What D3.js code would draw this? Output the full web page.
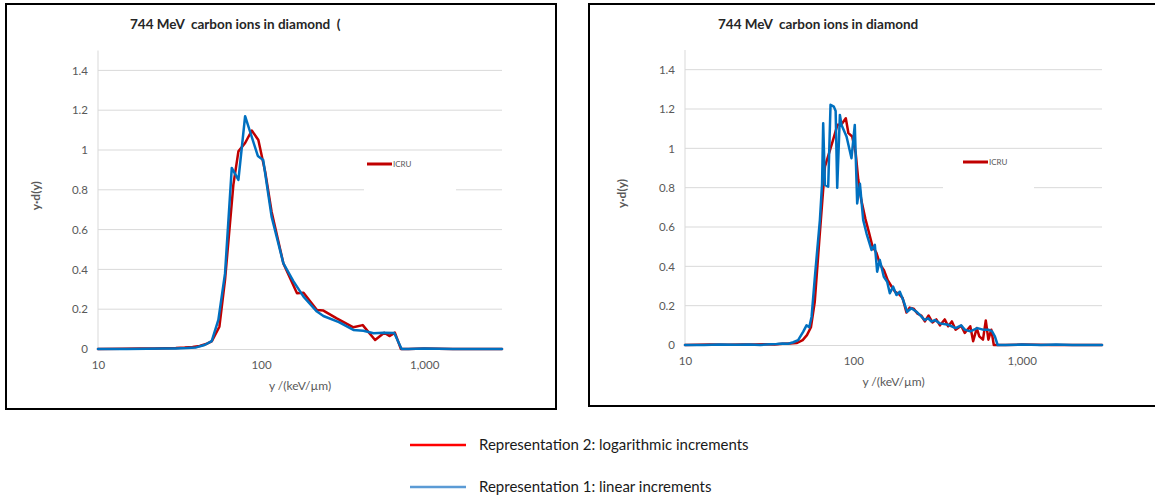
<!DOCTYPE html>
<html>
<head>
<meta charset="utf-8">
<script src="https://cdn.jsdelivr.net/npm/d3@7"></script>
<style>
  html, body { margin: 0; padding: 0; background: #fff; }
  svg { display: block; }
  text { font-family: Lato, "Open Sans", "Liberation Sans", sans-serif; }
</style>
</head>
<body>
<svg id="chart" width="1155" height="497"></svg>
<script>
// Microdosimetric spectra y·d(y), 744 MeV carbon ions in diamond

// Panel A — coarse binning
const panelALogX = [10, 14, 18, 22, 26, 30, 34, 38, 42, 46, 50, 55.5, 60.1, 67.6, 72.6, 79.8, 87.7, 96.2, 106, 116, 137, 166, 182, 220, 241, 291, 368, 420, 500, 569, 612, 661, 720, 800, 1000, 1500, 2000, 3000];
const panelALogY = [0, 0.001, 0.002, 0.003, 0.004, 0.005, 0.007, 0.01, 0.015, 0.025, 0.04, 0.112, 0.347, 0.825, 0.993, 1.035, 1.098, 1.05, 0.89, 0.69, 0.43, 0.28, 0.283, 0.196, 0.193, 0.154, 0.109, 0.12, 0.045, 0.082, 0.065, 0.082, 0, 0, 0.002, 0, 0, 0];
const panelALinX = [10, 15, 20, 25, 30, 35, 40, 45, 49.8, 54.7, 60.1, 66.1, 72.6, 79.8, 95.5, 103, 116, 137, 158, 182, 220, 241, 300, 368, 424, 489, 565, 655, 727, 800, 1000, 1500, 2000, 3000];
const panelALinY = [0, 0, 0.001, 0.002, 0.003, 0.005, 0.008, 0.02, 0.04, 0.146, 0.38, 0.91, 0.85, 1.17, 0.97, 0.95, 0.665, 0.43, 0.34, 0.263, 0.188, 0.166, 0.135, 0.096, 0.092, 0.079, 0.082, 0.08, 0, 0, 0.002, 0, 0, 0];

// Panel B — fine binning
const panelBLogX = [10, 14, 18, 22, 26, 30, 34, 38, 42, 46, 50, 53, 56, 59, 63, 67.8, 74.8, 80.5, 84.7, 90.2, 93.5, 98.4, 103.3, 107, 111.4, 118, 124, 130, 137, 144, 152, 160, 168, 177, 186, 196, 207, 216, 228, 240, 253, 266, 280, 295, 311, 327, 349, 366, 385, 405, 437, 459, 495, 515, 541, 560, 589, 612, 634, 660, 683, 720, 800, 1000, 1500, 2000, 3000];
const panelBLogY = [0, 0.002, 0.001, 0.003, 0.002, 0.004, 0.003, 0.006, 0.008, 0.01, 0.025, 0.05, 0.09, 0.22, 0.55, 0.907, 1.026, 1.12, 1.12, 1.153, 1.077, 1.06, 0.975, 0.84, 0.738, 0.64, 0.57, 0.5, 0.47, 0.41, 0.38, 0.33, 0.3, 0.27, 0.26, 0.24, 0.165, 0.19, 0.185, 0.16, 0.15, 0.12, 0.15, 0.115, 0.13, 0.1, 0.13, 0.095, 0.12, 0.078, 0.098, 0.061, 0.095, 0.019, 0.086, 0.044, 0.027, 0.125, 0.027, 0.078, 0, 0, 0, 0.002, 0, 0, 0];
const panelBLinX = [10, 13, 16, 20, 24, 28, 32, 35, 38, 41, 44, 47, 50.4, 52.7, 54.7, 56.5, 59.1, 63.3, 65.2, 66.2, 67.8, 70.9, 73.2, 76.6, 78.5, 80.2, 83.2, 85.1, 91.1, 97.5, 102, 105.4, 109.4, 114.4, 119.7, 128.2, 134.2, 138.5, 143.6, 151.7, 158.8, 164.7, 172.3, 180.4, 188.8, 197.6, 208.6, 221.3, 237.1, 248.1, 265.6, 278.1, 291.2, 304.7, 326.2, 366, 405, 437, 459, 495, 546, 589, 634, 667, 693, 720, 800, 1000, 1300, 1600, 2000, 3000];
const panelBLinY = [0, 0, 0.002, 0.001, 0.003, 0, 0.004, 0.005, 0.008, 0.006, 0.014, 0.025, 0.068, 0.1, 0.09, 0.144, 0.347, 0.636, 0.82, 1.128, 0.814, 0.805, 1.221, 1.212, 1.19, 0.8, 1.17, 1.119, 1.06, 0.95, 1.119, 0.72, 0.82, 0.636, 0.568, 0.483, 0.509, 0.373, 0.432, 0.347, 0.322, 0.263, 0.297, 0.254, 0.271, 0.229, 0.169, 0.187, 0.169, 0.153, 0.127, 0.136, 0.119, 0.127, 0.11, 0.103, 0.086, 0.1, 0.078, 0.069, 0.086, 0.078, 0.078, 0.069, 0.044, 0, 0, 0.002, 0, 0.002, 0, 0];

// Axis ticks
const yTicks = [0, 0.2, 0.4, 0.6, 0.8, 1, 1.2, 1.4];
const xTicks = [10, 100, 1000];
const xTickLabels = ["10", "100", "1,000"];

const chartTitles = ["744 MeV  carbon ions in diamond  (", "744 MeV  carbon ions in diamond"];
const legendLabels = ["Representation 2: logarithmic increments", "Representation 1: linear increments"];

const RED = "#C00000", BLUE = "#0070C0";
const svg = d3.select("#chart");

const panels = [
  { frame: [6, 4, 556, 409], plot: { x0: 98, x1: 502, y0: 349, y1: 50.5 },
    title: { x: 130, y: 29, text: chartTitles[0] },
    ylab: { x: 40 }, icru: { bx: 364, bw: 92, lx0: 367, lx1: 392, ly: 164 },
    series: [[panelALogX, panelALogY, RED], [panelALinX, panelALinY, BLUE]] },
  { frame: [589, 4, 1160, 406], plot: { x0: 685, x1: 1102, y0: 345, y1: 50 },
    title: { x: 718, y: 29, text: chartTitles[1] },
    ylab: { x: 626 }, icru: { bx: 943, bw: 91, lx0: 963, lx1: 988, ly: 162 },
    series: [[panelBLogX, panelBLogY, RED], [panelBLinX, panelBLinY, BLUE]] }
];

panels.forEach(p => {
  const g = svg.append("g");
  const [fx0, fy0, fx1, fy1] = p.frame;
  g.append("rect").attr("x", fx0).attr("y", fy0).attr("width", fx1 - fx0).attr("height", fy1 - fy0)
    .attr("fill", "#fff").attr("stroke", "#000").attr("stroke-width", 2);

  const x = d3.scaleLog().domain([10, 3000]).range([p.plot.x0, p.plot.x1]);
  const y = d3.scaleLinear().domain([0, 1.5]).range([p.plot.y0, p.plot.y1]);

  // gridlines
  g.append("g").selectAll("line").data(yTicks.filter(t => t > 0)).join("line")
    .attr("x1", p.plot.x0).attr("x2", p.plot.x1)
    .attr("y1", d => y(d)).attr("y2", d => y(d))
    .attr("stroke", "#d9d9d9").attr("stroke-width", 1);

  // y axis (labels only, Excel style)
  const yAxis = d3.axisLeft(y).tickValues(yTicks).tickSize(0).tickPadding(10)
    .tickFormat(d => d3.format("~g")(d));
  const yg = g.append("g").attr("transform", `translate(${p.plot.x0},0)`).call(yAxis);
  yg.select(".domain").attr("stroke", "#d9d9d9").attr("d", `M0,${y(1.5)}V${y(0)}`);
  yg.selectAll("text").attr("fill", "#595959").style("font-size", "11.5px");

  // x axis
  const xAxis = d3.axisBottom(x).tickValues(xTicks).tickSize(0).tickPadding(12)
    .tickFormat((d, i) => xTickLabels[i]);
  const xg = g.append("g").attr("transform", `translate(0,${p.plot.y0})`).call(xAxis);
  xg.select(".domain").attr("stroke", "#d9d9d9");
  xg.selectAll("text").attr("fill", "#595959").style("font-size", "11.5px");

  // axis titles
  g.append("text").attr("x", (p.plot.x0 + p.plot.x1) / 2).attr("y", p.plot.y0 + 41)
    .attr("text-anchor", "middle").attr("fill", "#595959").style("font-size", "12px")
    .text("y /(keV/µm)");
  g.append("text")
    .attr("transform", `translate(${p.ylab.x},${(p.plot.y0 + p.plot.y1) / 2 - 4}) rotate(-90)`)
    .attr("text-anchor", "middle").attr("fill", "#595959").style("font-size", "12px")
    .style("font-weight", "bold").text("y·d(y)");

  // chart title
  g.append("text").attr("x", p.title.x).attr("y", p.title.y)
    .style("font-size", "13.5px").style("font-weight", "bold").style("white-space", "pre")
    .attr("fill", "#262626").text(p.title.text);

  // inline "ICRU" legend box
  g.append("rect").attr("x", p.icru.bx).attr("y", p.icru.ly - 11).attr("width", p.icru.bw).attr("height", 43)
    .attr("fill", "#fff");
  g.append("line").attr("x1", p.icru.lx0).attr("x2", p.icru.lx1).attr("y1", p.icru.ly).attr("y2", p.icru.ly)
    .attr("stroke", RED).attr("stroke-width", 3);
  g.append("text").attr("x", p.icru.lx1 + 1).attr("y", p.icru.ly + 3)
    .style("font-size", "8px").attr("fill", "#595959").text("ICRU");

  // data lines
  const line = d3.line().x(d => x(d[0])).y(d => y(d[1]));
  p.series.forEach(([xs, ys, col]) => {
    const pts = xs.map((v, i) => [v, ys[i]]);
    g.append("path").datum(pts).attr("d", line)
      .attr("fill", "none").attr("stroke", col).attr("stroke-width", 2.5)
      .attr("stroke-linejoin", "round").attr("stroke-linecap", "round");
  });
});

// shared legend
const legend = svg.append("g");
const legendColors = ["#FF0000", "#5B9BD5"];
const legendY = [445, 487];
legendLabels.forEach((t, i) => {
  legend.append("line").attr("x1", 410).attr("x2", 466).attr("y1", legendY[i]).attr("y2", legendY[i])
    .attr("stroke", legendColors[i]).attr("stroke-width", 2.5);
  legend.append("text").attr("x", 479).attr("y", legendY[i] + 5)
    .style("font-size", "15px").attr("fill", "#1a1a1a").text(t);
});
</script>
</body>
</html>
